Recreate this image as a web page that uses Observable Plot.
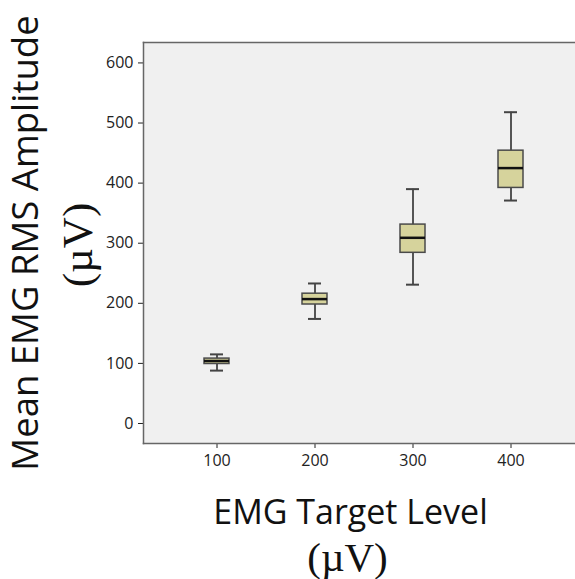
<!DOCTYPE html>
<html>
<head>
<meta charset="utf-8">
<script src="https://cdn.jsdelivr.net/npm/d3@7"></script>
<script src="https://cdn.jsdelivr.net/npm/@observablehq/plot@0.6"></script>
<style>
  html, body { margin: 0; padding: 0; background: #fff; overflow: hidden; }
</style>
</head>
<body>
<div id="chart"></div>
<script>
const categories = ["100", "200", "300", "400"];
const whiskerLow = [88, 174, 231, 371];
const q1 = [99, 198, 284, 392];
const median = [104, 207, 309, 425];
const q3 = [108, 216, 331, 454];
const whiskerHigh = [115, 233, 390, 518];
const yTicks = [0, 100, 200, 300, 400, 500, 600];
const yTitle = "Mean EMG RMS Amplitude";
const xTitle = "EMG Target Level";
const unitLabel = "(\u00B5V)";

const data = categories.map((c, i) => ({
  cat: c, lo: whiskerLow[i], q1: q1[i], med: median[i], q3: q3[i], hi: whiskerHigh[i]
}));

const sans = "'Open Sans', 'Liberation Sans', sans-serif";
const serif = "'Liberation Serif', 'DejaVu Serif', serif";

const chart = Plot.plot({
  width: 575,
  height: 579,
  marginLeft: 143,
  marginRight: 0,
  marginTop: 42,
  marginBottom: 136,
  style: { fontFamily: sans, fontSize: "16px", color: "#222", background: "#fff" },
  x: {
    type: "band",
    domain: categories,
    range: [202.5, 524.5],
    paddingInner: 0.747,
    paddingOuter: 0,
    label: null,
    tickSize: 5,
    tickPadding: 6
  },
  y: {
    domain: [-33.3, 634],
    ticks: yTicks,
    label: null,
    tickSize: 5,
    tickPadding: 5
  },
  marks: [
    Plot.frame({ fill: "#f0f0f0", stroke: null }),
    Plot.frame({ anchor: "top", stroke: "#666", strokeWidth: 1.5 }),
    Plot.frame({ anchor: "left", stroke: "#666", strokeWidth: 1.5 }),
    Plot.frame({ anchor: "bottom", stroke: "#666", strokeWidth: 1.5 }),
    Plot.ruleX(data, { x: "cat", y1: "lo", y2: "hi", stroke: "#555", strokeWidth: 2 }),
    Plot.tickY(data, { x: "cat", y: "lo", stroke: "#444", strokeWidth: 2, insetLeft: 6, insetRight: 6 }),
    Plot.tickY(data, { x: "cat", y: "hi", stroke: "#444", strokeWidth: 2, insetLeft: 6, insetRight: 6 }),
    Plot.barY(data, { x: "cat", y1: "q1", y2: "q3", fill: "#d6d39c", stroke: "#4a4a4a", strokeWidth: 1.5 }),
    Plot.tickY(data, { x: "cat", y: "med", stroke: "#111", strokeWidth: 2.5 }),
    Plot.text([yTitle], { text: d => d, frameAnchor: "left", rotate: -90, dx: -117, dy: 0, fontSize: 36.5, fontFamily: sans, fill: "#111", textAnchor: "middle", lineAnchor: "middle" }),
    Plot.text([unitLabel], { text: d => d, frameAnchor: "left", rotate: -90, dx: -65, dy: 2, fontSize: 43, fontFamily: serif, fill: "#111", textAnchor: "middle", lineAnchor: "middle" }),
    Plot.text([xTitle], { text: d => d, frameAnchor: "bottom", dx: -9, dy: 70, fontSize: 34, fontFamily: sans, fill: "#111", textAnchor: "middle", lineAnchor: "middle" }),
    Plot.text([unitLabel], { text: d => d, frameAnchor: "bottom", dx: -12, dy: 114, fontSize: 41, fontFamily: serif, fill: "#111", textAnchor: "middle", lineAnchor: "middle" })
  ]
});
document.getElementById("chart").appendChild(chart);
</script>
</body>
</html>
